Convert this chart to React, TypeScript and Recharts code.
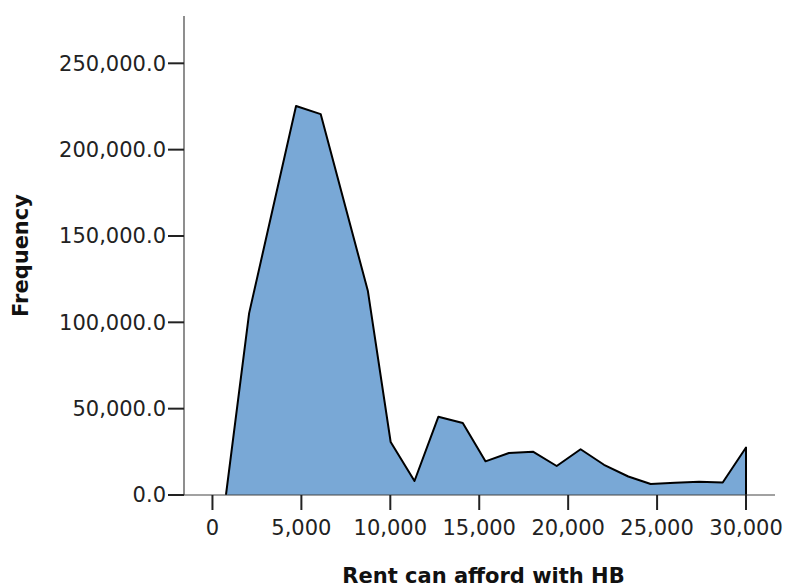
import React from 'react'
import { AreaChart, Area, XAxis, YAxis } from 'recharts'

const rentValues = [
  759, 2060, 4700, 6085, 8740, 10020, 11360, 12700, 14075, 15350, 16670,
  18020, 19355, 20700, 22015, 23380, 24640, 26010, 27360, 28690, 30000, 30000,
]
const frequencies = [
  0, 105200, 225300, 220600, 118100, 30700, 8100, 45300, 41700, 19500, 24300,
  25100, 16800, 26500, 17500, 10700, 6400, 7100, 7700, 7200, 27500, 0,
]

const xTicks = [0, 5000, 10000, 15000, 20000, 25000, 30000]
const yTicks = [0, 50000, 100000, 150000, 200000, 250000]

const xTitle = 'Rent can afford with HB'
const yTitle = 'Frequency'

const data = rentValues.map((x, i) => ({ x, freq: frequencies[i] }))

const FONT = '"DejaVu Sans", Verdana, sans-serif'
const tickStyle = { fontSize: 21, fill: '#222', fontFamily: FONT }

function YTitle(props: any) {
  const vb = props.viewBox || {}
  const cy = vb.y + vb.height / 2
  const cx = 21
  return (
    <text
      x={cx}
      y={cy}
      transform={`rotate(-90, ${cx}, ${cy})`}
      textAnchor="middle"
      dominantBaseline="central"
      fontFamily={FONT}
      fontWeight="bold"
      fontSize={21}
      fill="#111"
    >
      {yTitle}
    </text>
  )
}

function XTitle(props: any) {
  const vb = props.viewBox || {}
  const cx = vb.x + vb.width / 2 + 4
  return (
    <text
      x={cx}
      y={583}
      textAnchor="middle"
      fontFamily={FONT}
      fontWeight="bold"
      fontSize={21}
      fill="#111"
    >
      {xTitle}
    </text>
  )
}

export default function App() {
  return (
    <div style={{ position: 'absolute', left: 0, top: 0, width: 785, height: 587, background: '#fff' }}>
      <AreaChart
        width={785}
        height={587}
        data={data}
        margin={{ top: 16, right: 10, left: 0, bottom: 0 }}
      >
        <XAxis
          dataKey="x"
          type="number"
          domain={[-1600, 31630]}
          ticks={xTicks}
          allowDataOverflow
          height={92}
          tick={tickStyle}
          tickFormatter={(v: number) => v.toLocaleString('en-US')}
          tickSize={15}
          tickMargin={10}
          axisLine={{ stroke: '#444', strokeWidth: 1.2 }}
          tickLine={{ stroke: '#222', strokeWidth: 2 }}
          label={<XTitle />}
        />
        <YAxis
          type="number"
          domain={[0, 277400]}
          ticks={yTicks}
          allowDataOverflow
          width={184}
          tick={tickStyle}
          tickFormatter={(v: number) =>
            v.toLocaleString('en-US', { minimumFractionDigits: 1, maximumFractionDigits: 1 })
          }
          tickSize={16}
          tickMargin={2}
          axisLine={{ stroke: '#444', strokeWidth: 1.2 }}
          tickLine={{ stroke: '#222', strokeWidth: 2 }}
          label={<YTitle />}
        />
        <Area
          type="linear"
          dataKey="freq"
          stroke="#000"
          strokeWidth={2}
          strokeLinejoin="round"
          fill="#79a8d6"
          fillOpacity={1}
          dot={false}
          activeDot={false}
          isAnimationActive={false}
        />
      </AreaChart>
    </div>
  )
}
